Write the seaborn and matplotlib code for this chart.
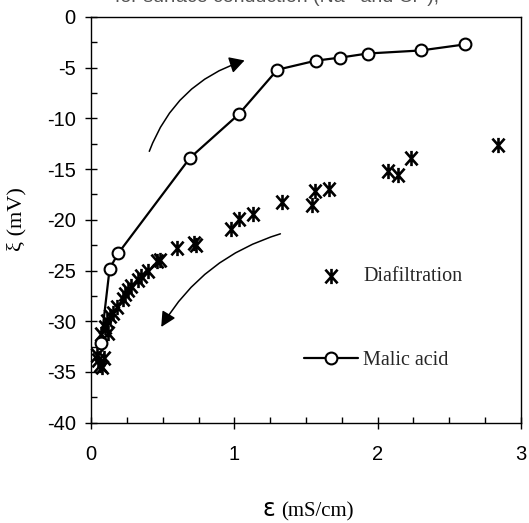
import matplotlib
matplotlib.use("Agg")
import matplotlib.pyplot as plt
from matplotlib.path import Path
from matplotlib.patches import FancyArrowPatch
from matplotlib.font_manager import FontProperties
import seaborn as sns

# Diafiltration: conductivity (mS/cm) vs zeta potential (mV)
diaf_cond = [0.04, 0.05, 0.06, 0.08, 0.09, 0.07, 0.10, 0.11, 0.12, 0.13,
             0.15, 0.18, 0.22, 0.24, 0.26, 0.28, 0.33, 0.35, 0.40, 0.46,
             0.48, 0.60, 0.72, 0.73, 0.98, 1.03, 1.13, 1.33, 1.54, 1.56,
             1.66, 2.07, 2.14, 2.23, 2.84]
diaf_zeta = [-33.3, -33.8, -34.3, -34.5, -33.6, -31.3, -30.6, -30.0, -31.2, -29.5,
             -29.2, -28.6, -27.8, -27.3, -26.9, -26.5, -25.9, -25.5, -25.0, -24.1,
             -24.0, -22.8, -22.3, -22.5, -20.9, -19.9, -19.4, -18.2, -18.5, -17.2,
             -17.0, -15.2, -15.6, -13.9, -12.6]

# Malic acid addition: conductivity (mS/cm) vs zeta potential (mV)
malic_cond = [0.07, 0.13, 0.19, 0.69, 1.03, 1.30, 1.57, 1.74, 1.93, 2.30, 2.61]
malic_zeta = [-32.1, -24.8, -23.3, -13.9, -9.6, -5.2, -4.3, -4.0, -3.6, -3.3, -2.7]

x_ticks = [0, 1, 2, 3]
y_ticks = [0, -5, -10, -15, -20, -25, -30, -35, -40]
x_tick_labels = ["0", "1", "2", "3"]
y_tick_labels = ["0", "-5", "-10", "-15", "-20", "-25", "-30", "-35", "-40"]

sns.set_theme(style="ticks")
plt.rcParams["font.family"] = ["Liberation Sans", "DejaVu Sans"]
plt.rcParams["axes.unicode_minus"] = False

W, H = 529, 523
fig = plt.figure(figsize=(W / 100, H / 100), dpi=100)
fig.patch.set_facecolor("white")
ax = fig.add_axes([91 / W, 1 - 422.7 / H, 430 / W, 405.7 / H])
ax.set_facecolor("white")

# asterisk marker: vertical bar crossed by an X
star = Path([(0, -1), (0, 1), (-0.8, -0.9), (0.8, 0.9), (-0.8, 0.9), (0.8, -0.9)],
            [Path.MOVETO, Path.LINETO] * 3)

sns.scatterplot(x=diaf_cond, y=diaf_zeta, marker=star, s=120, color="black",
                edgecolor="black", linewidth=1.9, ax=ax, label="Diafiltration",
                zorder=3, clip_on=False)
sns.lineplot(x=malic_cond, y=malic_zeta, sort=False, estimator=None, color="black",
             linewidth=1.6, marker="o", markersize=8.5, markerfacecolor="white",
             markeredgecolor="black", markeredgewidth=1.5, ax=ax,
             label="Malic acid", zorder=4, clip_on=False)

ax.set_xlim(0, 3)
ax.set_ylim(-40, 0)
ax.set_xticks(x_ticks, labels=x_tick_labels)
ax.set_yticks(y_ticks, labels=y_tick_labels)
ax.xaxis.set_minor_locator(matplotlib.ticker.MultipleLocator(0.25))
ax.yaxis.set_minor_locator(matplotlib.ticker.MultipleLocator(2.5))
ax.tick_params(which="major", direction="inout", length=8, width=1, colors="black",
               labelsize=14.5, top=False, right=False)
ax.tick_params(which="minor", direction="in", length=4, width=1, colors="black",
               top=False, right=False)
ax.tick_params(axis="x", which="major", pad=12)
ax.tick_params(axis="y", which="major", pad=7)
for sp in ax.spines.values():
    sp.set_visible(True)
    sp.set_color("black")
    sp.set_linewidth(1.0)
ax.set_xlabel("")
ax.set_ylabel("")

# curved arrows showing the direction of each run
ax.add_patch(FancyArrowPatch((0.40, -13.5), (1.09, -4.2),
                             connectionstyle="arc3,rad=-0.25",
                             arrowstyle="-|>,head_length=9,head_width=5",
                             color="black", linewidth=1.1, zorder=2))
ax.add_patch(FancyArrowPatch((1.34, -21.3), (0.48, -30.8),
                             connectionstyle="arc3,rad=0.2",
                             arrowstyle="-|>,head_length=9,head_width=4.5",
                             color="black", linewidth=1.1, zorder=2))

handles, labels = ax.get_legend_handles_labels()
ax.legend(handles, labels, loc="upper left", bbox_to_anchor=(0.453, 0.428),
          frameon=False, prop=FontProperties(family="Liberation Serif", size=14.5),
          labelspacing=3.2, handlelength=2.7, handletextpad=0.25, borderpad=0.4,
          scatterpoints=1)

# axis labels
fig.text(17 / W, 1 - 219 / H, "ξ (mV)", rotation=90, ha="center", va="center",
         family=["Liberation Serif", "DejaVu Sans"], size=16, color="black")
fig.text(262 / W, 1 - 516 / H, "ε", ha="left", va="baseline",
         family="DejaVu Sans", size=17, color="black")
fig.text(281 / W, 1 - 516 / H, "(mS/cm)", ha="left", va="baseline",
         family="Liberation Serif", size=15, color="black")

# caption line running off the top edge
fig.text(277 / W, 1 - 2 / H, "for surface conduction (Na⁺ and Cl⁻),",
         ha="center", va="baseline", family=["Liberation Sans", "DejaVu Sans"],
         size=14, color="#555555")

fig.savefig("out.png", dpi=100)
